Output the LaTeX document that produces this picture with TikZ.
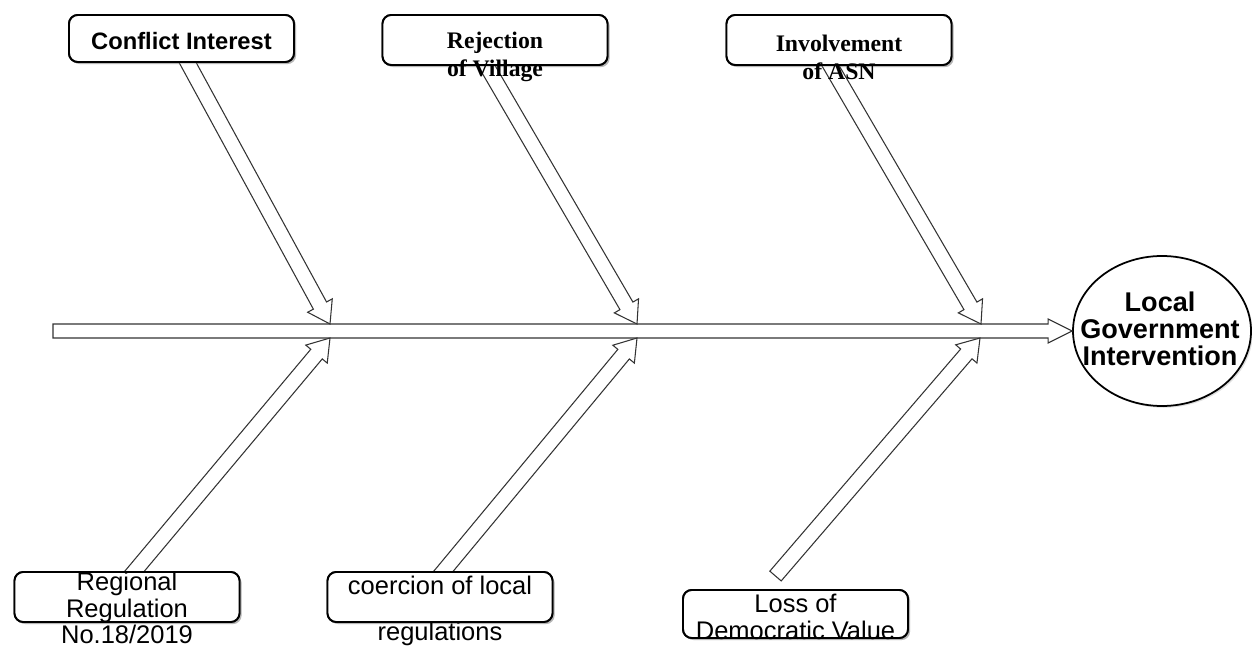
\documentclass[tikz,border=0pt]{standalone}
\usepackage{fontspec}
\setmainfont{Liberation Sans}
\newfontfamily\serifbox{Liberation Serif}
\usetikzlibrary{positioning}
\usetikzlibrary{calc,shadows}
\usetikzlibrary{shapes.geometric}

\newcommand{\blockarrow}[5]{%
  \coordinate (hb) at ($(#2)!#5!(#1)$);
  \draw[blockline] ($(#1)!#3!90:(#2)$) -- ($(hb)!#3!90:(#2)$) -- ($(hb)!#4!90:(#2)$) -- (#2)
    -- ($(hb)!#4!-90:(#2)$) -- ($(hb)!#3!-90:(#2)$) -- ($(#1)!#3!-90:(#2)$) -- cycle;}

\begin{document}
\begin{tikzpicture}[x=0.2mm,y=-0.2mm,
  cause/.style={rectangle, rounded corners=5pt, draw=black, line width=1.1pt,
    fill=white, minimum width=45mm, minimum height=10mm, inner sep=0mm,
    drop shadow={shadow xshift=1.2pt, shadow yshift=-1.2pt, opacity=0.35}},
  effect/.style={ellipse, draw=black, line width=1pt, fill=white, inner sep=0mm,
    minimum width=35.6mm, minimum height=30mm,
    drop shadow={shadow xshift=1pt, shadow yshift=-1pt, opacity=0.25}},
  lbl/.style={align=center, font=\fontsize{14.5}{15.3}\selectfont},
  serlbl/.style={align=center, font=\serifbox\bfseries\fontsize{13.5}{16}\selectfont},
  blockline/.style={draw=black!80, fill=white, line width=0.6pt, line join=miter}]

\useasboundingbox (0,0) rectangle (1252,648);

  \node[effect] at (1162,331) (effect) {};

  \node[cause, minimum height=9.4mm] at (181.5,38.5) (conflict) {};
  \node[cause] at (495,40) (reject) {};
  \node[cause] at (839,40) (involve) {};
  \node[cause] at (127,597) (regional) {};
  \node[cause] at (440,597) (coercion) {};
  \node[cause, minimum height=9.6mm] at (795.5,614) (loss) {};

\coordinate (spinetail) at (53,331);
\coordinate (J1) at (330,324);
\coordinate (J2) at (637,324);
\coordinate (J3) at (981,324);
\coordinate (K1) at (330,338);
\coordinate (K2) at (637,338);
\coordinate (K3) at (980,338);
\coordinate (T1) at ($(conflict.south)+(2,-8)$);
\coordinate (T2) at ($(reject.south)+(-13,-8)$);
\coordinate (T3) at ($(involve.south)+(-13,-8)$);
\coordinate (T4) at ($(regional.north)+(1,8)$);
\coordinate (T5) at ($(coercion.north)+(-3,8)$);
\coordinate (T6) at ($(loss.north)+(-20,-13)$);

\blockarrow{spinetail}{effect.west}{1.4mm}{2.4mm}{4.8mm}
\blockarrow{T1}{J1}{1.5mm}{2.8mm}{4.2mm}
\blockarrow{T2}{J2}{1.5mm}{2.8mm}{4.2mm}
\blockarrow{T3}{J3}{1.5mm}{2.8mm}{4.2mm}
\blockarrow{T4}{K1}{1.5mm}{2.8mm}{4.2mm}
\blockarrow{T5}{K2}{1.5mm}{2.8mm}{4.2mm}
\blockarrow{T6}{K3}{1.5mm}{2.8mm}{4.2mm}

  \node[cause, minimum height=9.4mm] at (conflict) {};
  \node[cause] at (reject) {};
  \node[cause] at (involve) {};
  \node[cause] at (regional) {};
  \node[cause] at (coercion) {};
  \node[cause, minimum height=9.6mm] at (loss) {};

\node[align=center, font=\bfseries\fontsize{15.4}{15.2}\selectfont] at ($(effect)+(-2,-2)$) (effecttxt) {Local\\Government\\Intervention};
\node[lbl, font=\bfseries\fontsize{13.5}{15}\selectfont] at ($(conflict)+(0,3)$) (conflicttxt) {Conflict Interest};
\node[serlbl] at ($(reject)+(0,17)$) (rejecttxt) {Rejection\\of Village};
\node[serlbl] at ($(involve)+(0,17)$) (involvetxt) {Involvement\\of ASN};
\node[lbl] at ($(regional)+(0,11)$) (regionaltxt) {Regional\\Regulation\\No.18/2019};
\node[lbl] at ($(coercion)+(0,14)$) (coerciontxt) {coercion of local\\[10.5pt]regulations};
\node[lbl] at ($(loss)+(0,3)$) (losstxt) {Loss of\\Democratic Value};

\end{tikzpicture}
\end{document}
